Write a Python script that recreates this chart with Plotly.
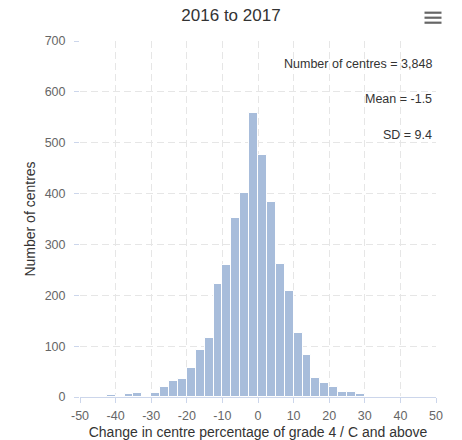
import plotly.graph_objects as go

# Data
bin_width = 2.5
bin_starts = [-50 + 2.5 * i for i in range(40)]
counts = [0, 0, 0, 3, 0, 5, 7, 0, 7, 20,
          31, 35, 57, 92, 117, 223, 260, 351, 401, 559,
          475, 383, 261, 208, 126, 82, 37, 27, 20, 9,
          9, 5, 0, 0, 0, 0, 0, 0, 0, 0]
x_tick_vals = [-50, -40, -30, -20, -10, 0, 10, 20, 30, 40, 50]
x_tick_text = ["-50", "-40", "-30", "-20", "-10", "0", "10", "20", "30", "40", "50"]
y_tick_vals = [0, 100, 200, 300, 400, 500, 600, 700]
stats_labels = ["Number of centres = 3,848", "Mean = -1.5", "SD = 9.4"]
title_text = "2016 to 2017"
x_title = "Change in centre percentage of grade 4 / C and above"
y_title = "Number of centres"

centers = [s + bin_width / 2 for s in bin_starts]

FONT = "Liberation Sans, Arial, sans-serif"
W, H = 462, 440
L, R, T, B = 80, 26, 41, 43
plot_w = W - L - R
plot_h = H - T - B

def px_to_paper_x(px):
    return (px - L) / plot_w

def py_to_paper_y(py):
    return (H - B - py) / plot_h

fig = go.Figure(go.Bar(
    x=centers, y=counts, width=bin_width,
    marker=dict(color="#a8bddb", line=dict(color="white", width=1)),
    hoverinfo="x+y",
))

grid = dict(showgrid=True, gridcolor="#e6e6e6", gridwidth=1, griddash="7px,4px")

fig.update_layout(
    width=W, height=H,
    margin=dict(l=L, r=R, t=T, b=B, autoexpand=False),
    paper_bgcolor="white", plot_bgcolor="white",
    font=dict(family=FONT, color="#333333"),
    showlegend=False,
    bargap=0,
    title=dict(text=title_text, x=0.5, xref="container", xanchor="center",
               y=1 - 15 / H, yref="container", yanchor="middle",
               font=dict(size=17, color="#333333", family=FONT)),
    xaxis=dict(range=[-50, 50], tickmode="array", tickvals=x_tick_vals, ticktext=x_tick_text,
               **grid,
               zeroline=False, showline=True, linecolor="#ccd6eb", linewidth=1,
               ticks="outside", ticklen=5, tickcolor="#ccd6eb",
               tickfont=dict(size=12.5, color="#666666", family=FONT),
               ticklabelstandoff=2,
               title=dict(text=x_title, font=dict(size=14, color="#333333", family=FONT), standoff=5),
               automargin=False),
    yaxis=dict(range=[0, 700], tickmode="array", tickvals=y_tick_vals, **grid,
               zeroline=False, showline=False,
               ticks="outside", ticklen=5, tickcolor="#ccd6eb",
               tickfont=dict(size=12.5, color="#666666", family=FONT),
               ticklabelstandoff=6,
               title=dict(text=y_title, font=dict(size=14, color="#333333", family=FONT), standoff=5),
               automargin=False),
)

ys = [64.3, 99.3, 135.3]
for txt, yy in zip(stats_labels, ys):
    fig.add_annotation(text=txt, xref="paper", yref="paper",
                       x=px_to_paper_x(434), y=py_to_paper_y(yy),
                       xanchor="right", yanchor="middle", showarrow=False,
                       font=dict(size=12.5, color="#333333", family=FONT))

# hamburger menu icon
for yy in [12.7, 17.7, 22.7]:
    fig.add_shape(type="line", xref="paper", yref="paper",
                  x0=px_to_paper_x(424.5), x1=px_to_paper_x(441.5),
                  y0=py_to_paper_y(yy), y1=py_to_paper_y(yy),
                  line=dict(color="#666666", width=2.2))

fig.write_html("out.html", config={"displayModeBar": False},
               post_script="document.body.style.margin='0';document.body.style.overflow='hidden';")
